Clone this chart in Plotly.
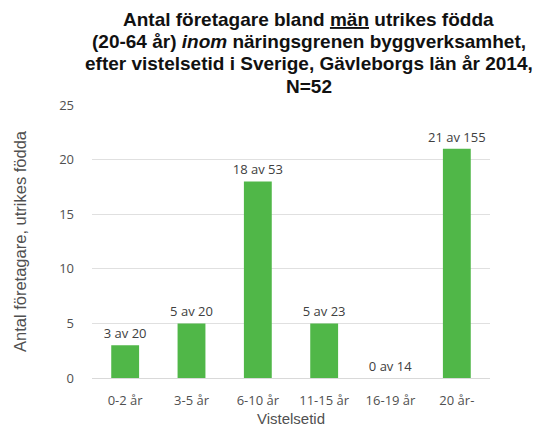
import plotly.graph_objects as go

categories = ["0-2 år", "3-5 år", "6-10 år", "11-15 år", "16-19 år", "20 år-"]
values = [3, 5, 18, 5, 0, 21]
totals = [20, 20, 53, 23, 14, 155]
labels = [f"{v} av {t}" for v, t in zip(values, totals)]
y_ticks = [0, 5, 10, 15, 20, 25]

title_lines = [
    "Antal företagare bland <u>män</u> utrikes födda",
    "(20-64 år) <i>inom</i> näringsgrenen byggverksamhet,",
    "efter vistelsetid i Sverige, Gävleborgs län år 2014,",
    "N=52",
]
title_centers_px = [19, 41, 63, 86]

fig = go.Figure(go.Bar(
    x=categories, y=values, text=labels, textposition="outside",
    cliponaxis=False, constraintext="none",
    marker=dict(color="#50B748", line=dict(width=0)),
    textfont=dict(family="Open Sans, Liberation Sans, sans-serif", size=13, color="#404040"),
))

top_margin = 105
annotations = []
for line, cy in zip(title_lines, title_centers_px):
    annotations.append(dict(
        text=line, xref="paper", yref="paper", x=0.545, y=1, yshift=top_margin - cy,
        xanchor="center", yanchor="middle", showarrow=False, align="center",
        font=dict(family="Liberation Sans, Arial, sans-serif", size=19, color="#111111", weight="bold"),
    ))

fig.update_layout(
    width=539, height=433,
    margin=dict(l=92, r=49, t=top_margin, b=55, autoexpand=False),
    paper_bgcolor="white", plot_bgcolor="white",
    bargap=0.58,
    showlegend=False,
    annotations=annotations,
    xaxis=dict(
        title=dict(text="Vistelsetid", font=dict(family="Liberation Sans, Arial, sans-serif", size=15, color="#505050"), standoff=5),
        tickfont=dict(family="Open Sans, Liberation Sans, sans-serif", size=13, color="#505050"),
        showline=True, linecolor="#D9D9D9", linewidth=1, ticks="", automargin=False,
        ticklabelstandoff=10,
    ),
    yaxis=dict(
        title=dict(text="Antal företagare, utrikes födda", font=dict(family="Liberation Sans, Arial, sans-serif", size=16.5, color="#505050"), standoff=28),
        tickfont=dict(family="Open Sans, Liberation Sans, sans-serif", size=13, color="#505050"),
        range=[0, 25], tickvals=y_ticks, showgrid=True, gridcolor="#E0E0E0", gridwidth=1,
        zeroline=False, ticks="", ticklabelstandoff=17, automargin=False,
    ),
)

fig.write_html("out.html", config={"displayModeBar": False},
               post_script="document.body.style.margin='0';")
